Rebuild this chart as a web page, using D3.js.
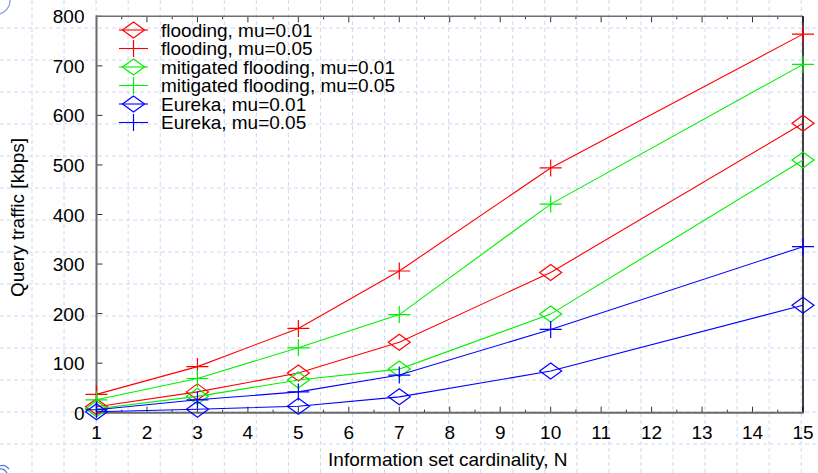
<!DOCTYPE html>
<html>
<head>
<meta charset="utf-8">
<script src="https://cdn.jsdelivr.net/npm/d3@7"></script>
<style>
  html, body { margin: 0; padding: 0; background: #fff; }
  svg { display: block; font-family: "Liberation Sans", Arial, sans-serif; }
</style>
</head>
<body>
<svg id="chart" width="818" height="473"></svg>
<script>
const xValues = [1, 3, 5, 7, 10, 15];
const floodingMu001 = [12, 42, 80, 142, 283, 584];
const floodingMu005 = [37, 93, 170, 286, 494, 764];
const mitigatedMu001 = [8, 33, 66, 88, 199, 510];
const mitigatedMu005 = [26, 69, 131, 198, 421, 703];
const eurekaMu001 = [2, 7, 13, 32, 84, 217];
const eurekaMu005 = [6, 26, 42, 76, 168, 335];
const seriesNames = ["flooding, mu=0.01", "flooding, mu=0.05", "mitigated flooding, mu=0.01",
                     "mitigated flooding, mu=0.05", "Eureka, mu=0.01", "Eureka, mu=0.05"];
const xTicks = [1, 2, 3, 4, 5, 6, 7, 8, 9, 10, 11, 12, 13, 14, 15];
const yTicks = [0, 100, 200, 300, 400, 500, 600, 700, 800];
const xTitle = "Information set cardinality, N";
const yTitle = "Query traffic [kbps]";

(function () {
const series = [
  { name: seriesNames[0], values: floodingMu001, color: "#ff0000", marker: "diamond" },
  { name: seriesNames[1], values: floodingMu005, color: "#ff0000", marker: "plus" },
  { name: seriesNames[2], values: mitigatedMu001, color: "#00f000", marker: "diamond" },
  { name: seriesNames[3], values: mitigatedMu005, color: "#00f000", marker: "plus" },
  { name: seriesNames[4], values: eurekaMu001, color: "#0000ff", marker: "diamond" },
  { name: seriesNames[5], values: eurekaMu005, color: "#0000ff", marker: "plus" }
];

const W = 818, H = 473;
const pL = 96.5, pR = 803, pT = 16.3, pB = 412.7;
const svg = d3.select("#chart");

// background paper grid
const bg = svg.append("g");
for (let gx = 32; gx < W; gx += 32.05) {
  bg.append("line").attr("x1", gx).attr("x2", gx).attr("y1", 0).attr("y2", H)
    .attr("stroke", "#cdd8f4").attr("stroke-width", 1).attr("stroke-dasharray", "4,3");
}
for (let gy = 28; gy < H; gy += 32) {
  bg.append("line").attr("x1", 0).attr("x2", W).attr("y1", gy).attr("y2", gy)
    .attr("stroke", "#cdd8f4").attr("stroke-width", 1).attr("stroke-dasharray", "4,3");
}
// corner decorations
svg.append("path").attr("d", "M 0 14 A 14 14 0 0 0 10 0").attr("fill", "none")
  .attr("stroke", "#8a8ff0").attr("stroke-width", 1.2);
svg.append("path").attr("d", "M 0 466 q 5 -2 9 3 M 0 469 q 4 -1 7 4").attr("fill", "none")
  .attr("stroke", "#5a7ae0").attr("stroke-width", 1.3);

const x = d3.scaleLinear().domain([1, 15]).range([pL, pR]);
const y = d3.scaleLinear().domain([0, 800]).range([pB, pT]);

const minorX = d3.range(1.5, 15, 1);
const axG = svg.append("g");
axG.selectAll(".bt").data(xTicks).join("line")
  .attr("x1", d => x(d)).attr("x2", d => x(d)).attr("y1", pB).attr("y2", pB - 6)
  .attr("stroke", "#333").attr("stroke-width", 1);
axG.selectAll(".bm").data(minorX).join("line")
  .attr("x1", d => x(d)).attr("x2", d => x(d)).attr("y1", pB).attr("y2", pB - 3)
  .attr("stroke", "#333").attr("stroke-width", 1);
axG.selectAll(".tt").data(xTicks).join("line")
  .attr("x1", d => x(d)).attr("x2", d => x(d)).attr("y1", pT).attr("y2", pT + 6)
  .attr("stroke", "#333").attr("stroke-width", 1);
axG.selectAll(".tm").data(minorX).join("line")
  .attr("x1", d => x(d)).attr("x2", d => x(d)).attr("y1", pT).attr("y2", pT + 3)
  .attr("stroke", "#333").attr("stroke-width", 1);
axG.selectAll(".lt").data(yTicks).join("line")
  .attr("x1", pL).attr("x2", pL + 6).attr("y1", d => y(d)).attr("y2", d => y(d))
  .attr("stroke", "#333").attr("stroke-width", 1);

// frame
svg.append("line").attr("x1", pL).attr("x2", pR).attr("y1", pT).attr("y2", pT)
  .attr("stroke", "#707070").attr("stroke-width", 1.5);
svg.append("line").attr("x1", pR).attr("x2", pR).attr("y1", pT).attr("y2", pB)
  .attr("stroke", "#000").attr("stroke-width", 1.5);
svg.append("line").attr("x1", pL).attr("x2", pL).attr("y1", pT - 0.75).attr("y2", pB + 1)
  .attr("stroke", "#6a6a6a").attr("stroke-width", 2);
svg.append("line").attr("x1", pL).attr("x2", pR + 0.75).attr("y1", pB).attr("y2", pB)
  .attr("stroke", "#6a6a6a").attr("stroke-width", 2);

// tick labels
svg.selectAll(".xl").data(xTicks).join("text")
  .attr("x", d => x(d)).attr("y", pB + 26).attr("text-anchor", "middle")
  .attr("font-size", 19).attr("fill", "#000").text(d => d);
svg.selectAll(".yl").data(yTicks).join("text")
  .attr("x", pL - 12).attr("y", d => y(d) + 7).attr("text-anchor", "end")
  .attr("font-size", 19).attr("fill", "#000").text(d => d);

// titles
svg.append("text").attr("x", (pL + pR) / 2 - 2).attr("y", 466).attr("text-anchor", "middle")
  .attr("font-size", 19).attr("fill", "#000").text(xTitle);
svg.append("text").attr("transform", `translate(24, ${(pT + pB) / 2 + 3}) rotate(-90)`)
  .attr("text-anchor", "middle").attr("font-size", 19).attr("fill", "#000").text(yTitle);

function markerPath(type, cx, cy) {
  if (type === "diamond") {
    return `M ${cx - 11} ${cy} L ${cx} ${cy - 8} L ${cx + 11} ${cy} L ${cx} ${cy + 8} Z`;
  }
  return `M ${cx - 11} ${cy} L ${cx + 11} ${cy} M ${cx} ${cy - 8.5} L ${cx} ${cy + 8.5}`;
}

const line = d3.line().x(d => x(d[0])).y(d => y(d[1]));
const plotG = svg.append("g");
series.forEach(s => {
  const pts = xValues.map((xv, i) => [xv, s.values[i]]);
  plotG.append("path").attr("d", line(pts)).attr("fill", "none")
    .attr("stroke", s.color).attr("stroke-width", 1.1);
  plotG.selectAll(null).data(pts).join("path")
    .attr("d", d => markerPath(s.marker, x(d[0]), y(d[1])))
    .attr("fill", "none").attr("stroke", s.color).attr("stroke-width", 1.2);
});

// legend
const lg = svg.append("g");
series.forEach((s, i) => {
  const cy = 30 + i * 18.5;
  lg.append("line").attr("x1", 119).attr("x2", 148).attr("y1", cy).attr("y2", cy)
    .attr("stroke", s.color).attr("stroke-width", 1.1);
  lg.append("path").attr("d", markerPath(s.marker, 133.5, cy)).attr("fill", "none")
    .attr("stroke", s.color).attr("stroke-width", 1.2);
  lg.append("text").attr("x", 161).attr("y", cy + 6.5).attr("font-size", 19)
    .attr("fill", "#000").text(s.name);
});
})();
</script>
</body>
</html>
